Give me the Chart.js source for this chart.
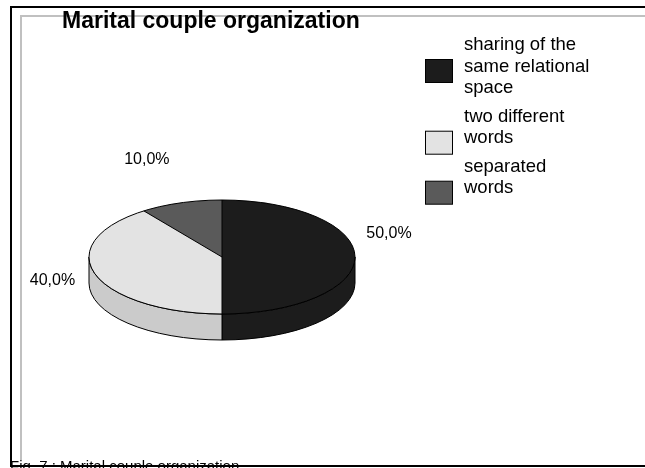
<!DOCTYPE html>
<html>
<head>
<meta charset="utf-8">
<style>
  html, body { margin: 0; padding: 0; background: #fff; overflow: hidden; }
  #chart { display: block; }
</style>
<script src="https://cdn.jsdelivr.net/npm/chart.js@4.4.1/dist/chart.umd.min.js"></script>
</head>
<body>
<canvas id="chart" width="645" height="468"></canvas>
<script>
/* ---------- data ---------- */
const categories = [
    ["sharing of the", "same relational", "space"],
    ["two different", "words"],
    ["separated", "words"]
];
const shares = [50, 40, 10];

const chartTitle = "Marital couple organization";
const caption = "Fig. 7 : Marital couple organization";

/* ---------- look ---------- */
const topColors  = ["#1c1c1c", "#e3e3e3", "#5a5a5a"];
const sideColors = ["#1c1c1c", "#cbcbcb", "#4a4a4a"];
const labelNudge = [[34, -23], [-43, 6], [-34, -43]];   // label offset from slice edge

const FONT = "'Liberation Sans', Arial, sans-serif";
const TILT = 57 / 133;   // ellipse ry / rx
const DEPTH = 26;        // pie thickness

/* ---------- frame + title + caption ---------- */
const framePlugin = {
    id: "frame",
    beforeDraw(chart) {
        const ctx = chart.ctx;
        ctx.save();
        ctx.fillStyle = "#fff";
        ctx.fillRect(0, 0, chart.width, chart.height);

        ctx.lineWidth = 2;
        ctx.strokeStyle = "#c0c0c0";
        ctx.beginPath();
        ctx.moveTo(21, 460);
        ctx.lineTo(21, 16);
        ctx.lineTo(chart.width + 5, 16);
        ctx.stroke();

        ctx.strokeStyle = "#000";
        ctx.beginPath();
        ctx.moveTo(chart.width + 5, 7);
        ctx.lineTo(11, 7);
        ctx.lineTo(11, 466);
        ctx.lineTo(chart.width + 5, 466);
        ctx.stroke();
        ctx.restore();
    },
    afterDraw(chart) {
        const ctx = chart.ctx;
        ctx.save();
        ctx.fillStyle = "#000";
        ctx.textBaseline = "alphabetic";
        ctx.textAlign = "left";
        ctx.font = "bold 23px " + FONT;
        ctx.fillText(chartTitle, 62, 28);
        ctx.font = "15px " + FONT;
        ctx.fillText(caption, 10, 471);
        ctx.restore();
    }
};

/* ---------- 3D pie: side walls + flattened top ---------- */
const pie3dPlugin = {
    id: "pie3d",
    beforeDatasetsDraw(chart) {
        const ctx = chart.ctx;
        const arcs = chart.getDatasetMeta(0).data;
        const x = arcs[0].x, y = arcs[0].y;

        ctx.save();
        ctx.lineWidth = 1;
        ctx.strokeStyle = "#000";
        arcs.forEach((arc, i) => {
            const a0 = Math.max(arc.startAngle, 0);
            const a1 = Math.min(arc.endAngle, Math.PI);
            if (a1 <= a0) return;
            const r = arc.outerRadius, ry = r * TILT;
            ctx.beginPath();
            ctx.ellipse(x, y, r, ry, 0, a0, a1);
            ctx.lineTo(x + r * Math.cos(a1), y + ry * Math.sin(a1) + DEPTH);
            ctx.ellipse(x, y + DEPTH, r, ry, 0, a1, a0, true);
            ctx.closePath();
            ctx.fillStyle = sideColors[i];
            ctx.fill();
            ctx.stroke();
        });

        // squash the pie drawn by Chart.js into an ellipse
        ctx.translate(x, y);
        ctx.scale(1, TILT);
        ctx.translate(-x, -y);
    },
    afterDatasetsDraw(chart) {
        const ctx = chart.ctx;
        ctx.restore();

        const arcs = chart.getDatasetMeta(0).data;
        const x = arcs[0].x, y = arcs[0].y;
        const r = arcs[0].outerRadius, ry = r * TILT;

        ctx.save();
        ctx.lineWidth = 1;
        ctx.strokeStyle = "#000";
        ctx.beginPath();
        ctx.ellipse(x, y, r, ry, 0, 0, Math.PI * 2);
        ctx.stroke();
        arcs.forEach(arc => {
            ctx.beginPath();
            ctx.moveTo(x, y);
            ctx.lineTo(x + r * Math.cos(arc.startAngle), y + ry * Math.sin(arc.startAngle));
            ctx.stroke();
        });

        // percent labels
        const values = chart.data.datasets[0].data;
        const total = values.reduce((a, b) => a + b, 0);
        ctx.fillStyle = "#000";
        ctx.font = "16px " + FONT;
        ctx.textAlign = "center";
        ctx.textBaseline = "middle";
        arcs.forEach((arc, i) => {
            const mid = (arc.startAngle + arc.endAngle) / 2;
            const ex = x + r * Math.cos(mid) + labelNudge[i][0];
            const ey = y + ry * Math.sin(mid) + labelNudge[i][1];
            const txt = (values[i] / total * 100).toFixed(1).replace(".", ",") + "%";
            ctx.fillText(txt, ex, ey);
        });
        ctx.restore();
    }
};

/* ---------- legend (multi-line entries) ---------- */
const legendPlugin = {
    id: "sideLegend",
    afterDraw(chart) {
        const ctx = chart.ctx;
        const labels = chart.data.labels;
        const colors = chart.data.datasets[0].backgroundColor;
        const lineH = 21.7, entryGap = 28.3;
        let lineY = 45;

        ctx.save();
        ctx.font = "18.5px " + FONT;
        ctx.textAlign = "left";
        ctx.textBaseline = "middle";
        labels.forEach((lines, i) => {
            ctx.fillStyle = colors[i];
            ctx.fillRect(425.5, lineY + 14.5, 27, 23);
            ctx.strokeStyle = "#000";
            ctx.lineWidth = 1;
            ctx.strokeRect(425.5, lineY + 14.5, 27, 23);

            ctx.fillStyle = "#000";
            lines.forEach((t, k) => ctx.fillText(t, 464, lineY + k * lineH));
            lineY += (lines.length - 1) * lineH + entryGap;
        });
        ctx.restore();
    }
};

/* ---------- chart ---------- */
new Chart(document.getElementById("chart"), {
    type: "pie",
    data: {
        labels: categories,
        datasets: [{
            data: shares,
            backgroundColor: topColors,
            borderWidth: 0,
            clip: false
        }]
    },
    options: {
        responsive: false,
        animation: false,
        events: [],
        radius: 133,
        layout: { padding: { left: 89, right: 290, top: 124, bottom: 78 } },
        plugins: {
            legend: { display: false },
            tooltip: { enabled: false },
            title: { display: false }
        }
    },
    plugins: [framePlugin, pie3dPlugin, legendPlugin]
});
</script>
</body>
</html>
